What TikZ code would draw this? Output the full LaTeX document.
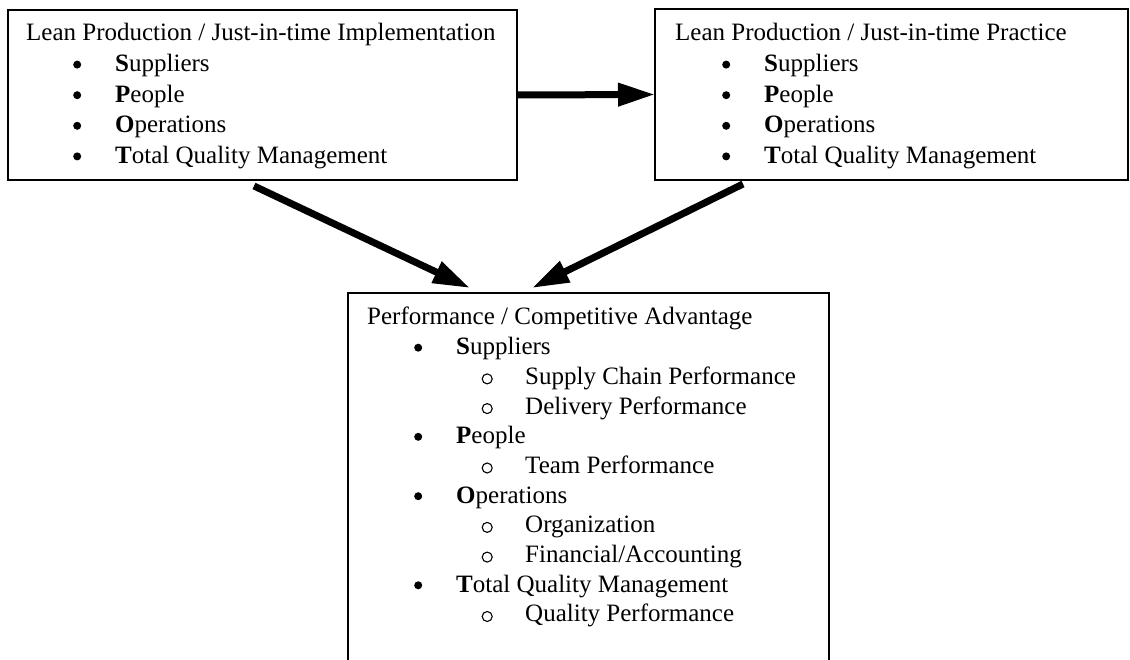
\documentclass[tikz,border=0pt]{standalone}
\usepackage{fontspec}
\setmainfont{Liberation Serif}
\usetikzlibrary{arrows.meta}

% list markers: filled bullet and hollow ring, centred on the marker column
\newcommand\bulmark{\makebox[0pt]{\tikz[baseline=0pt]\fill (0pt,7pt) circle[radius=4pt];}}
\newcommand\ringmark{\makebox[0pt]{\tikz[baseline=0pt]\draw[line width=1.1pt] (0pt,5.5pt) circle[radius=5pt];}}
% list helpers: bullet item and hollow "o" sub-item
\newcommand\bulitem[1]{\hspace*{51pt}\bulmark\hspace*{38pt}#1}
\newcommand\circitem[1]{\hspace*{120pt}\ringmark\hspace*{38pt}#1}

\begin{document}
\begin{tikzpicture}[x=1pt,y=-1pt,
  box/.style={draw, line width=1.5pt, rectangle, anchor=north west, inner sep=0pt, outer sep=0pt},
  listtext/.style={inner sep=0pt, anchor=base west},
  bigarrow/.style={line width=7pt, -{Triangle[length=37pt,width=22pt]}}]
  \useasboundingbox (0,0) rectangle (1130,660);
  \clip (0,0) rectangle (1130,660);

  % boxes
  \node[box, minimum width=509pt, minimum height=170pt] (impl) at (8,10) {};
  \node[box, minimum width=473pt, minimum height=171pt] (prac) at (655,9) {};
  \node[box, minimum width=481pt, minimum height=420pt] (perf) at (348,293) {};

  % box contents
  \node[listtext, font=\fontsize{25pt}{30.6pt}\selectfont] (implText) at (26,41)
    {\begin{tabular}[t]{@{}l@{}}
      Lean Production / Just-in-time Implementation\\
      \bulitem{\textbf{S}uppliers}\\
      \bulitem{\textbf{P}eople}\\
      \bulitem{\textbf{O}perations}\\
      \bulitem{\textbf{T}otal Quality Management}
    \end{tabular}};
  \node[listtext, font=\fontsize{25pt}{30.6pt}\selectfont] (pracText) at (675,41)
    {\begin{tabular}[t]{@{}l@{}}
      Lean Production / Just-in-time Practice\\
      \bulitem{\textbf{S}uppliers}\\
      \bulitem{\textbf{P}eople}\\
      \bulitem{\textbf{O}perations}\\
      \bulitem{\textbf{T}otal Quality Management}
    \end{tabular}};
  \node[listtext, font=\fontsize{25pt}{29.7pt}\selectfont] (perfText) at (367,325)
    {\begin{tabular}[t]{@{}l@{}}
      Performance / Competitive Advantage\\
      \bulitem{\textbf{S}uppliers}\\
      \circitem{Supply Chain Performance}\\
      \circitem{Delivery Performance}\\
      \bulitem{\textbf{P}eople}\\
      \circitem{Team Performance}\\
      \bulitem{\textbf{O}perations}\\
      \circitem{Organization}\\
      \circitem{Financial/Accounting}\\
      \bulitem{\textbf{T}otal Quality Management}\\
      \circitem{Quality Performance}
    \end{tabular}};

  % connectors
  \coordinate (implOut) at (254,186);
  \coordinate (implIn)  at (470,288);
  \coordinate (pracOut) at (743,184);
  \coordinate (pracIn)  at (532,288);
  \draw[bigarrow] (impl.east) -- (prac.west);
  \draw[bigarrow] (implOut) -- (implIn);
  \draw[bigarrow] (pracOut) -- (pracIn);
\end{tikzpicture}
\end{document}
